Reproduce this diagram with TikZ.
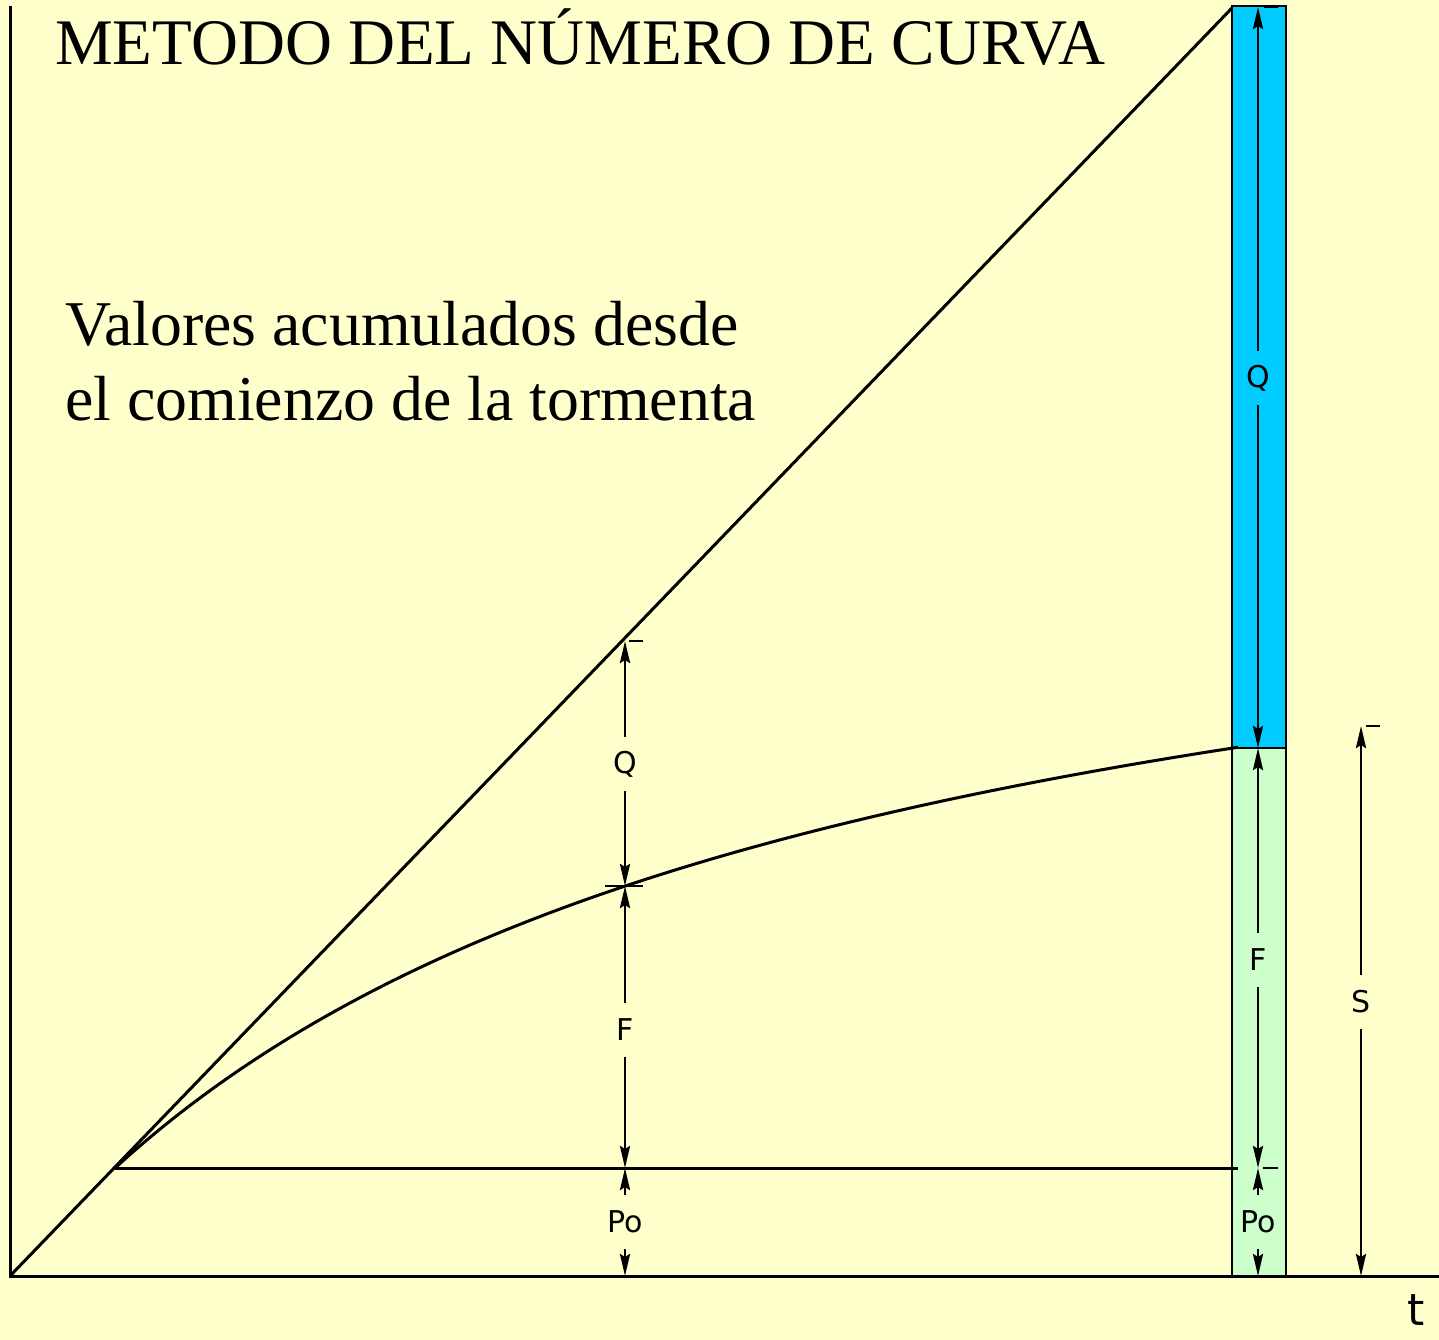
\documentclass[tikz,border=0pt]{standalone}
\usepackage{fontspec}
\setmainfont{Liberation Serif}
\newfontfamily\cadfont{DejaVu Sans}
\usetikzlibrary{arrows.meta}
\definecolor{bgyellow}{HTML}{FFFFCC}
\definecolor{qblue}{HTML}{00CCFF}
\definecolor{fgreen}{HTML}{CCFFCC}
\begin{document}
\begin{tikzpicture}[x=1pt,y=-1pt,
  mainline/.style={line width=3pt},
  colbox/.style={line width=2.2pt},
  dimline/.style={line width=2.8pt, -{Stealth[length=22pt,width=10pt,inset=3pt]}},
  tickline/.style={line width=2.8pt},
  dimlbl/.style={font=\cadfont\fontsize{30}{30}\selectfont, inner sep=0pt, minimum height=54pt, minimum width=40pt},
  bigtext/.style={font=\fontsize{65}{75}\selectfont, inner sep=0pt, anchor=base west},
  subtext/.style={font=\fontsize{63.8}{75}\selectfont, inner sep=0pt, anchor=base west}]
% background / bounding box
\fill[bgyellow] (0,0) rectangle (1439,1340);
\useasboundingbox (0,0) rectangle (1439,1340);

% key points
\coordinate (O) at (10,1276);
\coordinate (Ytop) at (10,6);
\coordinate (Xend) at (1439,1276);
\coordinate (Dtop) at (1232,8);
\coordinate (Pstart) at (115,1168);
\coordinate (Hend) at (1238,1168);

% column
\draw[colbox, fill=qblue] (1232,6) rectangle (1286,748);
\draw[colbox, fill=fgreen] (1232,748) rectangle (1286,1276);

% axes
\draw[mainline] (Ytop) -- (O) -- (Xend);
% diagonal (cumulative rainfall)
\draw[mainline] (O) -- (Dtop);
% curve (cumulative losses)
\draw[mainline] plot[domain=0:11.23, samples=80, smooth] ({115+100*\x},{1168-713*\x/(\x+7.8)});
% Po level
\draw[mainline] (Pstart) -- (Hend);

% left dimension chain at x=625
\coordinate (La) at (625,641);
\coordinate (Lb) at (625,886);
\coordinate (Lc) at (625,1168);
\coordinate (Ld) at (625,1276);
\node[dimlbl] (lq) at (625,764) {Q};
\node[dimlbl] (lf) at (625,1030) {F};
\node[dimlbl] (lp) at (625,1222) {Po};
\draw[dimline] (lq) -- (La);
\draw[dimline] (lq) -- (Lb);
\draw[dimline] (lf) -- (Lb);
\draw[dimline] (lf) -- (Lc);
\draw[dimline] (lp) -- (Lc);
\draw[dimline] (lp) -- (Ld);
\draw[tickline] (629,641) -- (643,641);
\draw[tickline] (605,886) -- (643,886);
\draw[tickline] (625,1168) -- (643,1168);

% column dimension chain at x=1258
\coordinate (Ca) at (1258,7);
\coordinate (Cb) at (1258,748);
\coordinate (Cc) at (1258,1168);
\coordinate (Cd) at (1258,1276);
\node[dimlbl] (cq) at (1258,378) {Q};
\node[dimlbl] (cf) at (1258,960) {F};
\node[dimlbl] (cp) at (1258,1222) {Po};
\draw[dimline] (cq) -- (Ca);
\draw[dimline] (cq) -- (Cb);
\draw[dimline] (cf) -- (Cb);
\draw[dimline] (cf) -- (Cc);
\draw[dimline] (cp) -- (Cc);
\draw[dimline] (cp) -- (Cd);
\draw[tickline] (1264,7) -- (1278,7);
\draw[tickline] (1263,748) -- (1278,748);
\draw[tickline] (1263,1168) -- (1278,1168);
\draw[tickline] (1263,1276) -- (1278,1276);

% S dimension at x=1361
\coordinate (Sa) at (1361,726);
\coordinate (Sb) at (1361,1276);
\node[dimlbl] (sl) at (1361,1002) {S};
\draw[dimline] (sl) -- (Sa);
\draw[dimline] (sl) -- (Sb);
\draw[tickline] (1366,726) -- (1380,726);

% axis label
\node[font=\cadfont\fontsize{44}{44}\selectfont, inner sep=0pt] (tl) at (1416,1310) {t};

% texts
\node[bigtext] (title) at (55,65) {METODO DEL NÚMERO DE CURVA};
\node[subtext] (sub1) at (65,345) {Valores acumulados desde};
\node[subtext] (sub2) at (65,420) {el comienzo de la tormenta};
\end{tikzpicture}
\end{document}
